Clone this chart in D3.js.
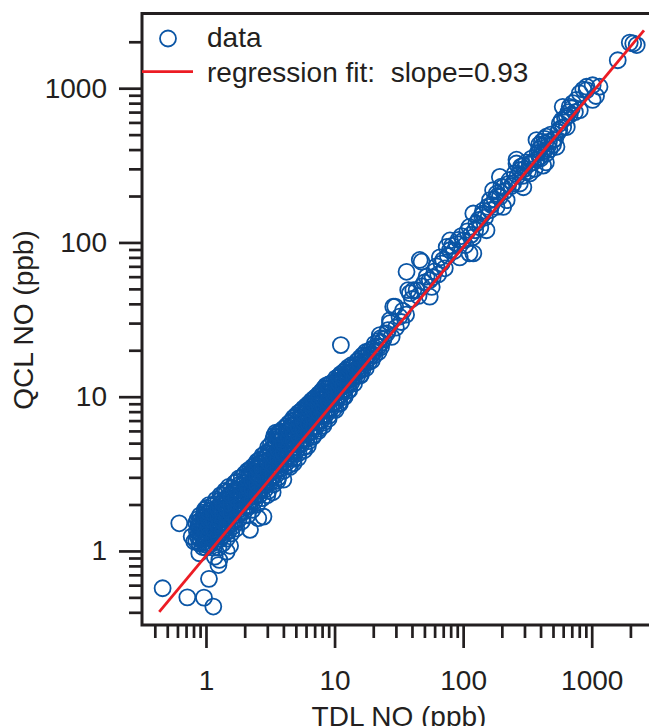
<!DOCTYPE html>
<html>
<head>
<meta charset="utf-8">
<script src="https://cdn.jsdelivr.net/npm/d3@7"></script>
<style>
  body { margin: 0; background: #fff; }
  text { font-family: "Liberation Sans", Arial, sans-serif; fill: #231f20; }
</style>
</head>
<body>
<script>
// TDL NO (x) vs QCL NO (y), ppb. pairs
var lowOutliers = [
  [0.46,0.573],[0.716,0.50],[0.965,0.498],[1.14,0.436],[1.055,0.659],[0.62,1.51],
  [1.25,0.81],[1.27,0.874],[1.17,0.918],[0.887,0.966],[0.81,1.15],[0.774,1.24],
  [1.54,1.08],[1.45,0.99],[2.2,1.37],[2.55,1.63],[2.8,1.67]
];

// the dense band between 0.8 and 25 ppb
var blobPoints = [
  [0.84,1.16],[0.86,1.25],[0.85,1.34],[0.87,1.44],[0.84,1.52],[0.86,1.6],
  [0.89,1.12],[0.91,1.2],[0.9,1.29],[0.92,1.38],[0.89,1.48],[0.91,1.58],[0.9,1.7],
  [0.94,1.06],[0.96,1.14],[0.95,1.23],[0.97,1.32],[0.94,1.42],[0.96,1.53],[0.95,1.64],[0.97,1.78],
  [1.0,1.05],[1.02,1.13],[0.99,1.21],[1.01,1.3],[1.03,1.4],[1.0,1.5],[1.02,1.62],[0.99,1.74],[1.01,1.9],
  [1.08,1.1],[1.11,1.18],[1.09,1.27],[1.12,1.36],[1.1,1.46],[1.08,1.57],[1.11,1.69],[1.09,1.82],[1.12,1.96],
  [1.19,1.14],[1.21,1.23],[1.18,1.32],[1.22,1.42],[1.2,1.53],[1.19,1.65],[1.21,1.78],[1.23,1.92],[1.2,2.15],
  [1.29,1.2],[1.31,1.3],[1.3,1.4],[1.28,1.5],[1.32,1.62],[1.3,1.75],[1.29,1.88],[1.31,2.03],[1.3,2.3],
  [1.39,1.28],[1.41,1.38],[1.4,1.49],[1.42,1.6],[1.38,1.72],[1.4,1.85],[1.42,2.0],[1.39,2.16],[1.41,2.45],
  [1.5,1.35],[1.52,1.46],[1.49,1.57],[1.51,1.69],[1.53,1.82],[1.5,1.96],[1.48,2.12],[1.52,2.3],[1.5,2.6],
  [1.64,1.45],[1.66,1.56],[1.63,1.68],[1.67,1.81],[1.65,1.95],[1.64,2.1],[1.66,2.27],[1.63,2.45],[1.67,2.75],
  [1.79,1.6],[1.81,1.72],[1.8,1.85],[1.78,1.99],[1.82,2.14],[1.8,2.3],[1.79,2.48],[1.81,2.68],[1.8,2.95],
  [1.98,1.8],[2.02,1.93],[2.0,2.07],[1.99,2.22],[2.03,2.38],[2.0,2.56],[1.98,2.75],[2.01,2.95],[2.0,3.15],
  [2.19,1.95],[2.21,2.09],[2.2,2.24],[2.22,2.4],[2.18,2.57],[2.2,2.76],[2.21,2.96],[2.19,3.17],[2.2,3.38],
  [2.39,2.1],[2.41,2.25],[2.4,2.41],[2.42,2.58],[2.38,2.77],[2.4,2.97],[2.41,3.18],[2.39,3.4],[2.4,3.6],
  [2.6,2.3],[2.62,2.46],[2.58,2.63],[2.61,2.82],[2.6,3.02],[2.63,3.24],[2.59,3.47],[2.6,3.7],[2.62,3.9],
  [2.88,2.5],[2.91,2.68],[2.9,2.87],[2.92,3.08],[2.89,3.3],[2.9,3.54],[2.91,3.79],[2.88,4.05],[2.9,4.3],
  [3.19,2.8],[3.21,3.0],[3.2,3.22],[3.22,3.45],[3.18,3.7],[3.2,3.97],[3.21,4.25],[3.19,4.55],[3.2,4.9],
  [3.5,3.1],[3.52,3.32],[3.48,3.56],[3.51,3.82],[3.5,4.1],[3.53,4.4],[3.49,4.72],[3.5,5.1],[3.52,5.5],
  [3.5,5.85],[3.6,5.7],[3.7,5.9],[3.4,5.6],
  [3.79,3.4],[3.81,3.64],[3.8,3.9],[3.82,4.18],[3.78,4.48],[3.8,4.8],[3.81,5.15],[3.79,5.5],[3.8,5.95],
  [4.2,3.7],[4.22,3.96],[4.18,4.24],[4.21,4.54],[4.2,4.86],[4.23,5.2],[4.19,5.57],[4.2,5.97],[4.22,6.45],
  [4.6,4.0],[4.62,4.29],[4.58,4.6],[4.61,4.93],[4.6,5.28],[4.63,5.66],[4.59,6.06],[4.6,6.5],[4.62,6.95],
  [5.0,4.4],[5.03,4.71],[4.98,5.04],[5.01,5.4],[5.0,5.78],[5.04,6.19],[4.99,6.63],[5.0,7.1],[5.02,7.55],
  [5.5,4.9],[5.53,5.24],[5.48,5.6],[5.51,5.99],[5.5,6.4],[5.54,6.84],[5.49,7.31],[5.5,7.7],[5.52,8.1],
  [6.0,5.3],[6.03,5.66],[5.98,6.04],[6.01,6.45],[6.0,6.9],[6.04,7.37],[5.99,7.87],[6.0,8.3],[6.02,8.7],
  [6.6,5.9],[6.63,6.3],[6.58,6.72],[6.61,7.17],[6.6,7.65],[6.64,8.17],[6.59,8.7],[6.6,9.1],[6.62,9.4],
  [7.2,6.4],[7.23,6.83],[7.18,7.28],[7.21,7.76],[7.2,8.28],[7.24,8.83],[7.19,9.4],[7.2,10.0],
  [7.9,7.0],[7.93,7.46],[7.88,7.95],[7.91,8.48],[7.9,9.04],[7.94,9.64],[7.89,10.25],[7.9,10.8],
  [8.6,7.7],[8.63,8.2],[8.58,8.74],[8.61,9.3],[8.6,9.9],[8.64,10.55],[8.59,11.2],[8.6,11.8],
  [9.4,8.4],[9.43,8.94],[9.38,9.5],[9.41,10.1],[9.4,10.75],[9.44,11.45],[9.39,12.2],
  [10.3,9.3],[10.33,9.88],[10.28,10.5],[10.31,11.15],[10.3,11.85],[10.34,12.55],[10.29,13.2],
  [11.2,10.2],[11.23,10.8],[11.18,11.45],[11.21,12.15],[11.2,12.9],[11.24,13.6],[11.19,14.0],
  [12.2,11.2],[12.24,11.85],[12.18,12.55],[12.21,13.3],[12.2,14.1],[12.23,14.9],
  [13.5,12.3],[13.54,13.0],[13.48,13.75],[13.51,14.55],[13.5,15.35],[13.53,16.0],
  [15,13.6],[15.05,14.4],[14.97,15.2],[15.02,16.1],[15,17.0],
  [16.5,15.0],[16.55,15.9],[16.47,16.8],[16.52,17.7],[16.5,18.5],
  [18.5,16.8],[18.55,17.8],[18.47,18.8],[18.52,19.8],
  [20.5,18.6],[20.55,19.7],[20.47,20.8],[20.52,22.0],
  [23,21],[23.1,22.4],[22.9,24.0],
  // below the fit line
  [3.3,2.4],[4.0,2.9],[4.5,3.5],[5.2,4.0],[6.2,4.8],[7.5,6.0],[9.0,7.2],[11,9.0],[13,11],[16,13.8],
  [3.0,2.3],[3.6,2.85],[4.8,3.7],[5.8,4.5],[8.2,6.5],[10.2,8.2],[12,10],[6.8,5.5]
];

// more of the same band, between the columns above
var blobFill = [
  [0.88,1.2],[0.88,1.4],[0.88,1.55],
  [0.98,1.1],[0.98,1.27],[0.98,1.45],[0.98,1.68],[0.98,1.85],
  [1.05,1.08],[1.05,1.25],[1.05,1.43],[1.05,1.6],[1.05,1.8],[1.05,1.98],
  [1.15,1.05],[1.15,1.2],[1.15,1.38],[1.15,1.55],[1.15,1.75],[1.15,2.0],
  [1.25,1.05],[1.25,1.25],[1.25,1.45],[1.25,1.65],[1.25,1.85],[1.25,2.1],
  [1.35,1.12],[1.35,1.33],[1.35,1.55],[1.35,1.78],[1.35,2.05],[1.35,2.3],
  [1.45,1.2],[1.45,1.4],[1.45,1.62],[1.45,1.88],[1.45,2.15],[1.45,2.4],
  [1.57,1.3],[1.57,1.5],[1.57,1.75],[1.57,2.0],[1.57,2.3],[1.57,2.55],
  [1.72,1.4],[1.72,1.62],[1.72,1.9],[1.72,2.2],[1.72,2.5],[1.72,2.8],
  [1.9,1.55],[1.9,1.8],[1.9,2.05],[1.9,2.35],[1.9,2.65],[1.9,3.0],
  [2.1,1.7],[2.1,1.98],[2.1,2.3],[2.1,2.62],[2.1,2.95],[2.1,3.3],
  [2.3,1.85],[2.3,2.15],[2.3,2.5],[2.3,2.85],[2.3,3.25],[2.3,3.5],
  [2.5,2.0],[2.5,2.35],[2.5,2.7],[2.5,3.1],[2.5,3.5],[2.5,3.8],
  [2.75,2.2],[2.75,2.55],[2.75,2.95],[2.75,3.4],[2.75,3.85],[2.75,4.15],
  [3.05,2.45],[3.05,2.85],[3.05,3.3],[3.05,3.8],[3.05,4.3],[3.05,4.7],
  [3.35,2.7],[3.35,3.1],[3.35,3.6],[3.35,4.15],[3.35,4.7],[3.35,5.3],
  [3.65,3.0],[3.65,3.45],[3.65,3.95],[3.65,4.55],[3.65,5.2],[3.65,5.75],
  [4.0,3.3],[4.0,3.8],[4.0,4.35],[4.0,5.0],[4.0,5.7],[4.0,6.2],
  [4.4,3.6],[4.4,4.15],[4.4,4.75],[4.4,5.4],[4.4,6.1],[4.4,6.7],
  [4.8,3.95],[4.8,4.5],[4.8,5.15],[4.8,5.85],[4.8,6.6],[4.8,7.3],
  [5.25,4.3],[5.25,4.9],[5.25,5.6],[5.25,6.35],[5.25,7.1],[5.25,7.85],
  [5.75,4.7],[5.75,5.35],[5.75,6.1],[5.75,6.9],[5.75,7.75],[5.75,8.4],
  [6.3,5.15],[6.3,5.85],[6.3,6.65],[6.3,7.5],[6.3,8.4],[6.3,9.0],
  [6.9,5.65],[6.9,6.4],[6.9,7.25],[6.9,8.15],[6.9,9.1],[6.9,9.7],
  [7.55,6.2],[7.55,7.0],[7.55,7.9],[7.55,8.85],[7.55,9.85],[7.55,10.4],
  [8.25,6.8],[8.25,7.65],[8.25,8.6],[8.25,9.6],[8.25,10.6],[8.25,11.3],
  [9.0,7.5],[9.0,8.4],[9.0,9.4],[9.0,10.4],[9.0,11.4],[9.0,12.0],
  [9.85,8.3],[9.85,9.2],[9.85,10.25],[9.85,11.3],[9.85,12.4],
  [10.8,9.1],[10.8,10.1],[10.8,11.2],[10.8,12.3],[10.8,13.5],
  [11.7,10.0],[11.7,11.0],[11.7,12.1],[11.7,13.2],[11.7,14.4],
  [12.8,11.0],[12.8,12.1],[12.8,13.2],[12.8,14.4],[12.8,15.5],
  [14.2,12.2],[14.2,13.4],[14.2,14.7],[14.2,16.0],
  [15.8,13.8],[15.8,15.1],[15.8,16.4],[15.8,17.8],
  [17.5,15.3],[17.5,16.7],[17.5,18.2],[17.5,19.5],
  [19.5,17.2],[19.5,18.7],[19.5,20.3],
  [22,19.5],[22,21.2],[22,23.0]
];

var midPoints = [
  [11.2,21.6],[22.5,25.1],[24,23.5],[25.4,25.7],[27,31.4],[27.8,24.4],[27,30],[28.6,38.3],
  [29.6,38.4],[26,27],[30,28],[32,33],[34,36],[33,30.5],[36,34],[37.4,49.1],[36.3,64.5],
  [38.6,46.9],[41,49],[43.5,49],[46,77],[47.5,75],[40,43],[45,45],[48,52],[50,55],[52,60],
  [55,57],[57,51.5],[55,44.5],[58,59.5],[60,65],[62,70],[64,62],[66,80],[68,73],[70,77],
  [72,68],[74.5,93.5],[76,82],[79,89],[79,103],[82,95],[85,88],[89,98],[92,104],[94,80],
  [97,110],[100,103],[104,96],[108,118],[112,85],[112,126],[115,112],[119,108],[120,85],
  [120,154],[124,120],[127,133],[132,140],[136,125],[140,150],[143,161],[143,154],[148,145],
  [152,120],[155,170],[162,162],[162,188],[166,175],[171,218],[176,190],[182,170],[182,207],
  [186,200],[193,197],[193,266],[198,230],[205,170],[205,228],[210,215],[218,188],[225,240],
  [230,254],[238,232],[245,241],[252,280],[260,325],[260,344],[265,270],[276,241],[276,294],
  [282,310],[290,270],[294,228],[294,315],[300,300],[310,330],[320,290],[330,280],[330,325],
  [340,350],[350,330],[360,300],[372,344],[372,461],[380,380],[390,400],[394,358],[400,350],
  [410,420],[419,315],[425,390],[435,440],[444,378],[444,485],[455,420],[465,450],[440,330]
];

var highPoints = [
  [503,461],[532,417],[480,500],[500,430],[520,470],[550,520],[470,400],[430,470],[410,450],
  [390,430],[560,540],[565,590],[585,620],[595,757],[600,560],[620,640],[640,658],[640,560],
  [660,700],[674,670],[674,757],[700,740],[714,801],[740,700],[760,839],[808,720],[808,926],
  [860,980],[913,972],[913,1022],[1017,1045],[1017,839],[1080,890],[1150,1022],[1594,1518],
  [1977,1975],[2104,1950],[2240,1905]
];

var fitSlope = 0.93;
var fitRange = [0.433, 2550];

var xMajor = [1, 10, 100, 1000];
var xMinor = [0.4,0.5,0.6,0.7,0.8,0.9, 2,3,4,5,6,7,8,9, 20,30,40,50,60,70,80,90,
              200,300,400,500,600,700,800,900, 2000];
var yMajor = [1, 10, 100, 1000];
var yMinor = [0.4,0.5,0.6,0.7,0.8,0.9, 2,3,4,5,6,7,8,9, 20,30,40,50,60,70,80,90,
              200,300,400,500,600,700,800,900, 2000];

var W = 649, H = 726;
var plotLeft = 142, plotBottom = 625, plotTop = 13.5;
var ink = "#231f20", blue = "#0a55a5", red = "#ec1c24";

var svg = d3.select("body").append("svg").attr("width", W).attr("height", H);

var x = d3.scaleLog().domain([0.318, 2790]).range([plotLeft, W]);
var y = d3.scaleLog().domain([0.331, 3050]).range([plotBottom, plotTop]);

var allPoints = lowOutliers.concat(blobPoints, blobFill, midPoints, highPoints);

svg.append("g").selectAll("circle")
   .data(allPoints)
   .enter().append("circle")
   .attr("cx", function(d) { return x(d[0]); })
   .attr("cy", function(d) { return y(d[1]); })
   .attr("r", 8)
   .attr("fill", "none")
   .attr("stroke", blue)
   .attr("stroke-width", 1.8);

var fitLine = d3.line()
   .x(function(d) { return x(d); })
   .y(function(d) { return y(fitSlope * d); });
svg.append("path")
   .attr("d", fitLine(fitRange))
   .attr("stroke", red).attr("stroke-width", 2.8).attr("fill", "none");

// axes
function styleAxis(g) {
    g.select(".domain").remove();
    g.selectAll("line").attr("stroke", ink).attr("stroke-width", 2.7);
    g.selectAll("text").attr("font-size", 28).attr("fill", ink)
     .attr("font-family", "Liberation Sans, Arial, sans-serif");
}

svg.append("g").attr("transform", "translate(0," + plotBottom + ")")
   .call(d3.axisBottom(x).tickValues(xMinor).tickSize(13).tickFormat(""))
   .call(styleAxis);
svg.append("g").attr("transform", "translate(0," + plotBottom + ")")
   .call(d3.axisBottom(x).tickValues(xMajor).tickSize(23).tickPadding(22).tickFormat(d3.format("d")))
   .call(styleAxis);
svg.append("g").attr("transform", "translate(" + plotLeft + ",0)")
   .call(d3.axisLeft(y).tickValues(yMinor).tickSize(13).tickFormat(""))
   .call(styleAxis);
svg.append("g").attr("transform", "translate(" + plotLeft + ",0)")
   .call(d3.axisLeft(y).tickValues(yMajor).tickSize(23).tickPadding(12).tickFormat(d3.format("d")))
   .call(styleAxis);

// frame: left, bottom, top
svg.append("path")
   .attr("d", "M" + W + "," + plotTop + "H" + plotLeft + "V" + plotBottom + "H" + W)
   .attr("fill", "none").attr("stroke", ink).attr("stroke-width", 3);

// axis titles
svg.append("text")
   .attr("x", 399).attr("y", 726)
   .attr("text-anchor", "middle").attr("font-size", 28)
   .text("TDL NO (ppb)");
svg.append("text")
   .attr("transform", "translate(33,320) rotate(-90)")
   .attr("text-anchor", "middle").attr("font-size", 28)
   .text("QCL NO (ppb)");

// legend
var legend = svg.append("g");
legend.append("circle").attr("cx", 168).attr("cy", 38.5).attr("r", 8)
      .attr("fill", "none").attr("stroke", blue).attr("stroke-width", 1.8);
legend.append("text").attr("x", 207).attr("y", 47).attr("font-size", 28).text("data");
legend.append("line").attr("x1", 142).attr("x2", 193).attr("y1", 71.7).attr("y2", 71.7)
      .attr("stroke", red).attr("stroke-width", 2.8);
legend.append("text").attr("x", 207).attr("y", 82).attr("font-size", 28)
      .style("white-space", "pre")
      .text("regression fit:  slope=" + fitSlope);
</script>
</body>
</html>
